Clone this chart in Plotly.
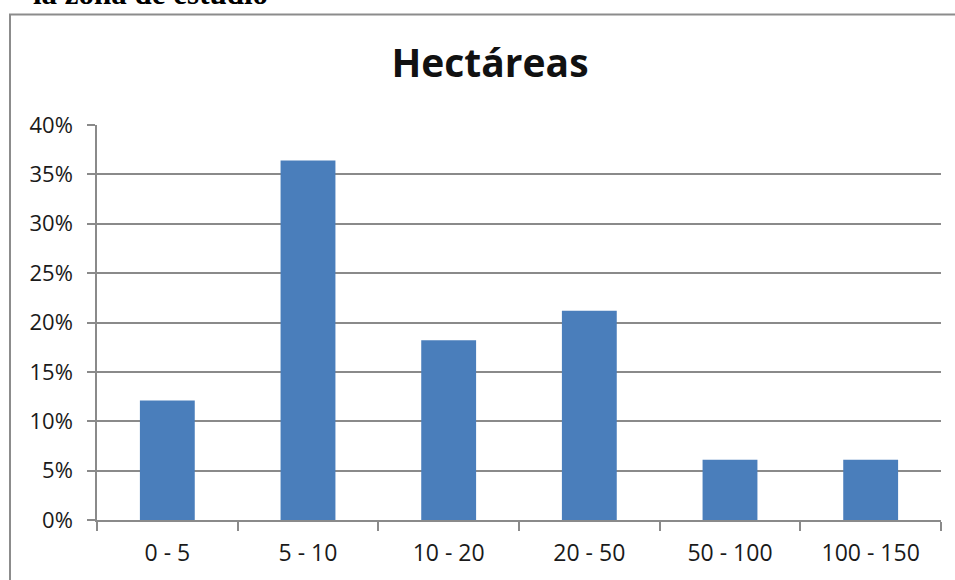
import plotly.graph_objects as go

categories = ["0 - 5", "5 - 10", "10 - 20", "20 - 50", "50 - 100", "100 - 150"]
values = [0.121, 0.364, 0.182, 0.212, 0.061, 0.061]
y_ticks = [0, 0.05, 0.10, 0.15, 0.20, 0.25, 0.30, 0.35, 0.40]
y_tick_labels = ["0%", "5%", "10%", "15%", "20%", "25%", "30%", "35%", "40%"]
title_text = "Hectáreas"
caption_text = "la zona de estudio"

W, H = 955, 580
L, R, T, B = 97, 14, 125, 58
pw = W - L - R
ph = H - T - B

def px_x(p):
    return (p - L) / pw

def px_y(p):
    return (H - B - p) / ph

fig = go.Figure(go.Bar(
    x=categories, y=values,
    marker=dict(color="#4A7EBB", line=dict(width=0)),
    width=0.39,
))

grid = "#8a8a8a"
fig.update_layout(
    width=W, height=H, autosize=False,
    margin=dict(l=L, r=R, t=T, b=B),
    paper_bgcolor="white", plot_bgcolor="white",
    showlegend=False,
    font=dict(family="Open Sans", color="#1a1a1a"),
    title=dict(text=title_text, x=490 / W, xanchor="center", y=1 - 63 / H, yanchor="middle",
               font=dict(family="Open Sans", size=39, color="#111111", weight="bold")),
    xaxis=dict(
        type="category", showgrid=False, showline=True, linecolor=grid, linewidth=1.5,
        ticks="outside", ticklen=9, tickcolor=grid, tickwidth=1.5, tickson="boundaries",
        tickfont=dict(size=23, family="Open Sans", color="#1a1a1a"),
        ticklabelstandoff=12,
    ),
    yaxis=dict(
        range=[0, 0.4], tickvals=y_ticks, ticktext=y_tick_labels,
        showgrid=True, gridcolor=grid, gridwidth=1.5,
        showline=True, linecolor=grid, linewidth=1.5,
        ticks="outside", ticklen=8, tickcolor=grid, tickwidth=1.5,
        tickfont=dict(size=22, family="Open Sans", color="#1a1a1a"),
        ticklabelstandoff=10, zeroline=False,
    ),
    shapes=[dict(type="rect", xref="paper", yref="paper",
                 x0=px_x(10), x1=px_x(975), y0=px_y(600), y1=px_y(14),
                 line=dict(color="#8c8c8c", width=2), fillcolor="rgba(0,0,0,0)", layer="below")],
    annotations=[dict(text="<b>" + caption_text + "</b>", xref="paper", yref="paper",
                      x=px_x(31), y=px_y(12), xanchor="left", yanchor="bottom",
                      showarrow=False,
                      font=dict(family="Liberation Serif", size=31, color="#000000"))],
)

fig.write_html("out.html", config={"displayModeBar": False},
               post_script="document.body.style.margin='0';")
